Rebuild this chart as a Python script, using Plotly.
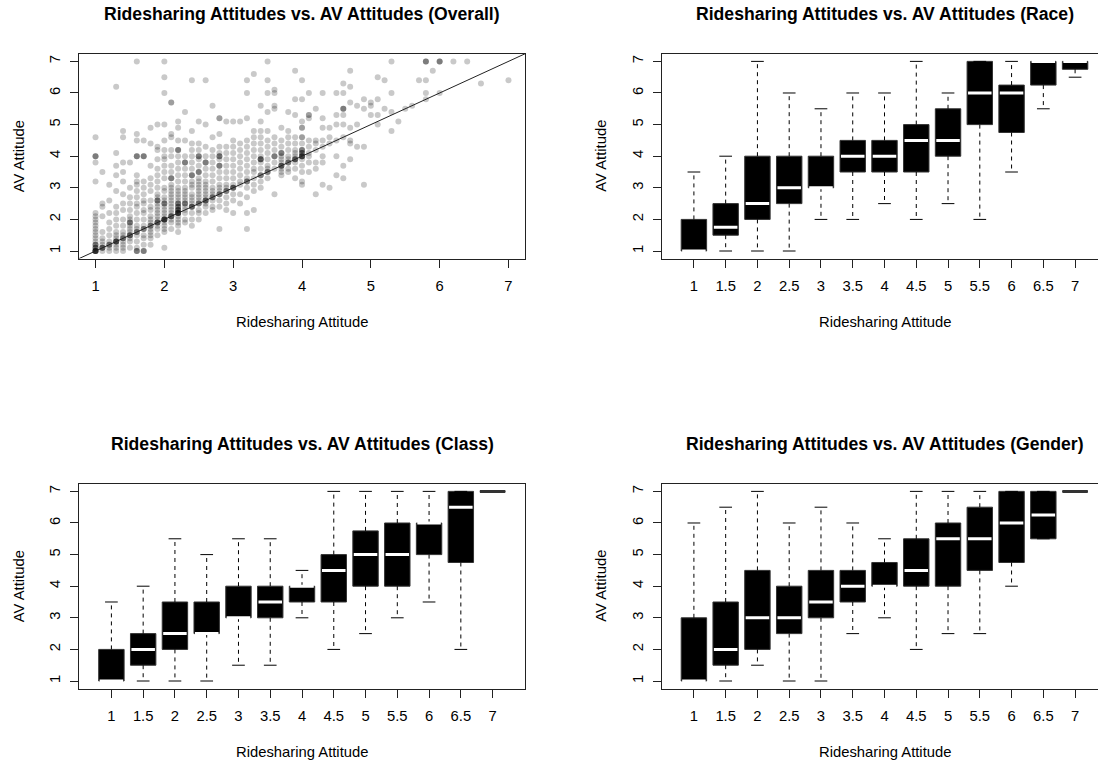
import plotly.graph_objects as go

# ---------------- data ----------------
# Overall scatter: ridesharing attitude levels and the AV attitudes seen at each level
ride_levels = [1.0, 1.1, 1.2, 1.3, 1.4, 1.5, 1.6, 1.7, 1.8, 1.9,
               2.0, 2.1, 2.2, 2.3, 2.4, 2.5, 2.6, 2.7, 2.8, 2.9,
               3.0, 3.1, 3.2, 3.3, 3.4, 3.5, 3.6, 3.7, 3.8, 3.9,
               4.0, 4.1, 4.2, 4.3, 4.4, 4.5, 4.6, 4.7, 4.8, 4.9,
               5.0, 5.1, 5.2, 5.3, 5.4, 5.5, 5.6, 5.7, 5.8, 5.9,
               6.0, 6.2, 6.4, 6.6, 7.0]
av_at_level = [
    [1.0, 1.1, 1.2, 1.3, 1.4, 1.5, 1.6, 1.7, 1.8, 1.9, 2.0, 2.1, 2.2, 3.2, 3.8, 4.0, 4.6],
    [1.0, 1.1, 1.2, 1.3, 1.4, 1.6, 2.1, 2.4, 2.5, 3.5],
    [1.0, 1.1, 1.2, 1.3, 1.5, 1.7, 1.9, 2.2, 2.6, 3.1],
    [1.0, 1.1, 1.2, 1.3, 1.4, 1.5, 1.6, 1.8, 2.0, 2.2, 2.4, 2.9, 3.4, 3.7, 4.1, 6.2],
    [1.0, 1.1, 1.2, 1.3, 1.4, 1.5, 1.6, 1.8, 2.0, 2.3, 2.5, 2.8, 3.2, 3.5, 3.8, 4.6, 4.8],
    [1.1, 1.3, 1.4, 1.5, 1.6, 1.7, 1.8, 1.9, 2.0, 2.1, 2.3, 2.5, 2.7, 3.0, 3.8],
    [1.0, 1.1, 1.3, 1.5, 1.6, 1.7, 1.8, 2.0, 2.2, 2.4, 2.5, 2.7, 2.9, 3.1, 3.2, 3.4, 4.0, 4.5, 4.7, 7.0],
    [1.0, 1.2, 1.4, 1.5, 1.7, 1.8, 2.0, 2.2, 2.3, 2.5, 2.6, 2.8, 3.0, 3.2, 4.0, 4.5],
    [1.2, 1.4, 1.5, 1.6, 1.7, 1.8, 1.9, 2.0, 2.1, 2.3, 2.4, 2.6, 2.9, 3.1, 3.3, 3.7, 4.4, 4.9],
    [1.5, 1.7, 1.8, 1.9, 2.0, 2.1, 2.2, 2.3, 2.4, 2.5, 2.6, 2.7, 2.8, 3.0, 3.2, 3.4, 3.6, 3.9, 4.2, 4.3, 5.0],
    [1.1, 1.6, 1.7, 1.8, 1.9, 2.0, 2.1, 2.2, 2.3, 2.4, 2.5, 2.6, 2.7, 2.9, 3.0, 3.3, 3.5, 3.7, 3.9, 4.0, 4.2, 4.5, 5.0, 6.0, 6.5, 7.0],
    [1.7, 1.9, 2.0, 2.1, 2.2, 2.3, 2.4, 2.5, 2.6, 2.7, 2.8, 2.9, 3.0, 3.1, 3.3, 3.5, 3.7, 4.0, 4.2, 4.6, 4.7, 5.7],
    [1.6, 1.8, 1.9, 2.0, 2.1, 2.2, 2.3, 2.4, 2.5, 2.6, 2.7, 2.8, 2.9, 3.0, 3.2, 3.4, 3.6, 3.8, 4.0, 4.2, 4.5, 4.9, 5.1],
    [1.9, 2.0, 2.2, 2.3, 2.4, 2.5, 2.6, 2.7, 2.8, 2.9, 3.0, 3.2, 3.4, 3.6, 3.8, 4.0, 4.5, 5.4],
    [1.8, 2.0, 2.2, 2.4, 2.5, 2.6, 2.7, 2.8, 3.0, 3.1, 3.2, 3.4, 3.6, 3.8, 4.0, 4.2, 4.4, 4.8, 6.4],
    [2.0, 2.2, 2.3, 2.5, 2.6, 2.7, 2.8, 2.9, 3.0, 3.1, 3.2, 3.3, 3.5, 3.7, 3.9, 4.0, 4.2, 4.4, 5.1],
    [2.2, 2.4, 2.5, 2.6, 2.7, 2.8, 2.9, 3.0, 3.1, 3.2, 3.4, 3.6, 3.8, 4.0, 4.3, 5.0, 6.4],
    [2.3, 2.4, 2.6, 2.7, 2.8, 2.9, 3.0, 3.2, 3.4, 3.6, 3.8, 4.0, 4.2, 4.6, 5.6],
    [1.7, 2.4, 2.6, 2.8, 2.9, 3.0, 3.1, 3.3, 3.5, 3.7, 3.9, 4.0, 4.1, 4.3, 4.7, 5.2],
    [2.3, 2.5, 2.7, 2.9, 3.0, 3.1, 3.3, 3.5, 3.7, 3.9, 4.1, 4.3, 5.1],
    [2.2, 2.6, 2.8, 3.0, 3.1, 3.3, 3.5, 3.7, 3.9, 4.1, 4.3, 4.5, 5.1],
    [2.5, 2.8, 3.1, 3.2, 3.4, 3.6, 3.8, 4.0, 4.2, 4.4, 5.1],
    [1.7, 2.2, 2.7, 3.0, 3.2, 3.3, 3.5, 3.7, 3.9, 4.1, 4.3, 4.5, 5.2, 6.0, 6.4],
    [2.3, 2.9, 3.1, 3.3, 3.5, 3.6, 3.8, 4.0, 4.2, 4.4, 4.6, 4.8, 6.6],
    [3.0, 3.2, 3.4, 3.6, 3.8, 3.9, 4.0, 4.2, 4.4, 4.6, 4.8, 5.1, 5.6],
    [3.3, 3.5, 3.6, 3.7, 3.9, 4.1, 4.3, 4.5, 4.8, 5.4, 6.0, 6.4, 7.0],
    [2.8, 3.6, 3.8, 4.0, 4.2, 4.4, 4.6, 5.5, 5.6, 6.0, 6.1],
    [3.4, 3.5, 3.6, 3.7, 3.8, 3.9, 4.0, 4.1, 4.3, 4.5, 4.9],
    [3.5, 3.6, 3.8, 3.9, 4.0, 4.2, 4.4, 4.6, 4.8, 5.4],
    [3.3, 3.6, 3.8, 3.9, 4.0, 4.1, 4.2, 4.4, 4.6, 5.3, 5.8, 6.7],
    [3.1, 3.2, 3.5, 3.7, 3.9, 4.0, 4.1, 4.2, 4.4, 4.6, 4.9, 5.1, 5.8, 6.4],
    [3.5, 3.8, 4.0, 4.1, 4.3, 4.5, 5.2, 5.3, 6.0],
    [2.8, 3.6, 3.8, 4.2, 4.4, 4.5, 5.5],
    [3.1, 3.8, 4.0, 4.3, 4.5, 4.9, 5.2, 6.0],
    [3.0, 4.4, 4.6, 4.9],
    [3.4, 4.0, 4.5, 5.0, 5.3, 6.0],
    [3.3, 3.7, 4.6, 5.0, 5.3, 5.5, 6.0, 6.3],
    [3.9, 4.4, 4.5, 4.9, 5.7, 6.2, 6.7],
    [4.3, 5.0, 5.6],
    [3.1, 4.3, 5.5, 5.8],
    [5.3, 5.6, 5.7],
    [5.0, 5.3, 5.8, 6.5],
    [5.5, 6.4],
    [4.8, 5.4, 6.0, 7.0],
    [5.1],
    [5.5],
    [5.6],
    [6.4],
    [5.8, 6.0, 6.4, 7.0],
    [6.7],
    [6.0, 7.0],
    [7.0],
    [7.0],
    [6.3],
    [6.4],
]
# repeated responses (darker overlapping dots)
dup_ride = [1.0, 1.0, 1.0, 1.0, 1.1, 1.2, 1.3, 1.4, 1.5, 1.5, 1.6, 1.6, 1.7, 1.6, 1.7, 1.7, 1.8, 1.9, 1.9,
            2.0, 2.0, 2.1, 2.1, 2.2, 2.2, 2.2, 2.2, 2.2, 2.3, 2.3, 2.4, 2.4, 2.5, 2.5, 2.5, 2.6, 2.6,
            2.7, 2.8, 2.8, 2.8, 2.9, 3.0, 3.2, 3.4, 3.4, 3.5, 3.6, 3.7, 3.7, 3.8, 3.9, 4.0, 4.0, 4.0,
            4.0, 4.0, 4.1, 4.6, 5.8, 6.0, 2.1, 2.8]
dup_av = [1.0, 1.1, 1.2, 4.0, 1.1, 1.2, 1.3, 1.4, 1.5, 1.9, 1.6, 1.0, 1.0, 4.0, 4.0, 1.7, 1.8, 1.9, 2.6,
          2.0, 2.5, 2.1, 3.3, 2.2, 2.3, 2.4, 2.5, 4.2, 2.5, 3.8, 2.4, 3.4, 2.5, 3.5, 4.0, 2.6, 3.8,
          2.7, 2.8, 4.0, 3.7, 2.9, 3.0, 3.2, 3.4, 3.9, 3.5, 4.0, 3.7, 4.1, 3.8, 3.9, 4.0, 4.1, 4.2,
          4.6, 4.9, 5.3, 5.5, 7.0, 7.0, 5.7, 5.2]
dup_count = [6, 2, 2, 2, 3, 2, 4, 2, 3, 2, 2, 2, 2, 2, 2, 2, 2, 3, 2,
             5, 2, 3, 2, 5, 3, 2, 2, 2, 2, 2, 3, 2, 2, 2, 2, 3, 2,
             2, 2, 2, 2, 2, 3, 2, 2, 3, 2, 2, 3, 2, 2, 3, 4, 2, 2,
             1, 1, 1, 2, 2, 2, 1, 1]

scatter_ticks = [1, 2, 3, 4, 5, 6, 7]

# Box plots: AV attitude by ridesharing attitude (13 groups)
group_labels = ["1", "1.5", "2", "2.5", "3", "3.5", "4", "4.5", "5", "5.5", "6", "6.5", "7"]

race_low  = [1.0, 1.0, 1.0, 1.0, 2.0, 2.0, 2.5, 2.0, 2.5, 2.0, 3.5, 5.5, 6.5]
race_q1   = [1.0, 1.5, 2.0, 2.5, 3.0, 3.5, 3.5, 3.5, 4.0, 5.0, 4.75, 6.25, 6.75]
race_med  = [1.0, 1.75, 2.5, 3.0, 3.0, 4.0, 4.0, 4.5, 4.5, 6.0, 6.0, 7.0, 7.0]
race_q3   = [2.0, 2.5, 4.0, 4.0, 4.0, 4.5, 4.5, 5.0, 5.5, 7.0, 6.25, 7.0, 7.0]
race_high = [3.5, 4.0, 7.0, 6.0, 5.5, 6.0, 6.0, 7.0, 6.0, 7.0, 7.0, 7.0, 7.0]

class_low  = [1.0, 1.0, 1.0, 1.0, 1.5, 1.5, 3.0, 2.0, 2.5, 3.0, 3.5, 2.0, 7.0]
class_q1   = [1.0, 1.5, 2.0, 2.5, 3.0, 3.0, 3.5, 3.5, 4.0, 4.0, 5.0, 4.75, 7.0]
class_med  = [1.0, 2.0, 2.5, 2.5, 3.0, 3.5, 4.0, 4.5, 5.0, 5.0, 6.0, 6.5, 7.0]
class_q3   = [2.0, 2.5, 3.5, 3.5, 4.0, 4.0, 4.0, 5.0, 5.75, 6.0, 6.0, 7.0, 7.0]
class_high = [3.5, 4.0, 5.5, 5.0, 5.5, 5.5, 4.5, 7.0, 7.0, 7.0, 7.0, 7.0, 7.0]

gender_low  = [1.0, 1.0, 1.5, 1.0, 1.0, 2.5, 3.0, 2.0, 2.5, 2.5, 4.0, 5.5, 7.0]
gender_q1   = [1.0, 1.5, 2.0, 2.5, 3.0, 3.5, 4.0, 4.0, 4.0, 4.5, 4.75, 5.5, 7.0]
gender_med  = [1.0, 2.0, 3.0, 3.0, 3.5, 4.0, 4.0, 4.5, 5.5, 5.5, 6.0, 6.25, 7.0]
gender_q3   = [3.0, 3.5, 4.5, 4.0, 4.5, 4.5, 4.75, 5.5, 6.0, 6.5, 7.0, 7.0, 7.0]
gender_high = [6.0, 6.5, 7.0, 6.0, 6.5, 6.0, 5.5, 7.0, 7.0, 7.0, 7.0, 7.0, 7.0]

titles = ["Ridesharing Attitudes vs. AV Attitudes (Overall)",
          "Ridesharing Attitudes vs. AV Attitudes (Race)",
          "Ridesharing Attitudes vs. AV Attitudes (Class)",
          "Ridesharing Attitudes vs. AV Attitudes (Gender)"]
x_title = "Ridesharing Attitude"
y_title = "AV Attitude"

# ---------------- layout geometry (pixels) ----------------
W, H = 1098, 761
FONT = "Liberation Sans, Arial, Helvetica, sans-serif"
AXFONT = 14.8
TITLEFONT = 17.6
ROW_OFF = 430
LEFT_X0, LEFT_X1 = 79, 525
RIGHT_X0 = 661.5
GROUP_PX = (LEFT_X1 - LEFT_X0) / 14.04
TOP_Y0, TOP_Y1 = 53.8, 258.6  # top / bottom of top-row plot boxes


def xdom(x0, x1):
    return [x0 / W, min(x1 / W, 1.0)]


def ydom(top, bottom):
    return [1 - bottom / H, 1 - top / H]


fig = go.Figure()

# ---- scatter panel ----
sx, sy = [], []
for lv, col in zip(ride_levels, av_at_level):
    for v in col:
        sx.append(lv)
        sy.append(v)
for lv, v, n in zip(dup_ride, dup_av, dup_count):
    for _ in range(n):
        sx.append(lv)
        sy.append(v)

fig.add_trace(go.Scatter(x=sx, y=sy, mode="markers", xaxis="x", yaxis="y",
                         marker=dict(size=6, color="rgba(0,0,0,0.21)", line=dict(width=0)),
                         hoverinfo="skip"))
# identity line y = x
fig.add_trace(go.Scatter(x=[0, 8], y=[0, 8], mode="lines", xaxis="x", yaxis="y",
                         line=dict(color="#222", width=1), hoverinfo="skip"))


def add_boxes(xa, ya, low, q1, med, q3, high):
    pos = list(range(1, len(low) + 1))
    fig.add_trace(go.Bar(x=pos, y=[b - a for a, b in zip(q1, q3)], base=q1, width=0.8,
                         xaxis=xa, yaxis=ya,
                         marker=dict(color="black", line=dict(color="#333", width=1)),
                         hoverinfo="skip"))
    wx, wy, sxs, sys_ = [], [], [], []
    for p, lo, a, b, hi in zip(pos, low, q1, q3, high):
        wx += [p, p, None, p, p, None]
        wy += [b, hi, None, a, lo, None]
        sxs += [p - 0.2, p + 0.2, None, p - 0.2, p + 0.2, None]
        sys_ += [hi, hi, None, lo, lo, None]
    fig.add_trace(go.Scatter(x=wx, y=wy, mode="lines", xaxis=xa, yaxis=ya,
                             line=dict(color="black", width=1, dash="4px,4px"), hoverinfo="skip"))
    fig.add_trace(go.Scatter(x=sxs, y=sys_, mode="lines", xaxis=xa, yaxis=ya,
                             line=dict(color="black", width=1), hoverinfo="skip"))
    mx_w, my_w, mx_d, my_d = [], [], [], []
    for p, a, m, b in zip(pos, q1, med, q3):
        if b > a:
            mx_w += [p - 0.37, p + 0.37, None]
            my_w += [m, m, None]
        else:
            mx_d += [p - 0.4, p + 0.4, None]
            my_d += [m, m, None]
    fig.add_trace(go.Scatter(x=mx_w, y=my_w, mode="lines", xaxis=xa, yaxis=ya,
                             line=dict(color="white", width=3), hoverinfo="skip"))
    if mx_d:
        fig.add_trace(go.Scatter(x=mx_d, y=my_d, mode="lines", xaxis=xa, yaxis=ya,
                                 line=dict(color="#333", width=3), hoverinfo="skip"))


add_boxes("x2", "y2", race_low, race_q1, race_med, race_q3, race_high)
add_boxes("x3", "y3", class_low, class_q1, class_med, class_q3, class_high)
add_boxes("x4", "y4", gender_low, gender_q1, gender_med, gender_q3, gender_high)

common = dict(showline=True, linecolor="#222", linewidth=1, ticks="outside", ticklen=8,
              tickcolor="#222", tickwidth=1, showgrid=False, zeroline=False,
              tickfont=dict(family=FONT, size=AXFONT, color="black"), fixedrange=True)

ngroups = len(group_labels)
right_range_end = -0.02 + (W - RIGHT_X0) / GROUP_PX
box_x_left = dict(common, tickmode="array", tickvals=list(range(1, ngroups + 1)),
                  ticktext=group_labels, range=[-0.02, ngroups + 1.02], mirror=True,
                  ticklabelstandoff=6)
box_x_right = dict(box_x_left, range=[-0.02, right_range_end])
yax = dict(common, tickmode="array", tickvals=scatter_ticks, range=[0.76, 7.24],
           tickangle=-90, ticklabelstandoff=4)

top_dom = ydom(TOP_Y0, TOP_Y1)
bot_dom = ydom(TOP_Y0 + ROW_OFF, TOP_Y1 + ROW_OFF)

fig.update_layout(
    width=W, height=H, margin=dict(l=0, r=0, t=0, b=0),
    paper_bgcolor="white", plot_bgcolor="white", showlegend=False,
    font=dict(family=FONT, color="black"),
    xaxis=dict(common, domain=xdom(LEFT_X0, LEFT_X1), anchor="y", tickmode="array",
               tickvals=scatter_ticks, range=[0.76, 7.24], mirror=True, ticklabelstandoff=6),
    yaxis=dict(yax, domain=top_dom, anchor="x", mirror=True),
    xaxis2=dict(box_x_right, domain=xdom(RIGHT_X0, W), anchor="y2"),
    yaxis2=dict(yax, domain=top_dom, anchor="x2", mirror=False),
    xaxis3=dict(box_x_left, domain=xdom(LEFT_X0, LEFT_X1), anchor="y3"),
    yaxis3=dict(yax, domain=bot_dom, anchor="x3", mirror=True),
    xaxis4=dict(box_x_right, domain=xdom(RIGHT_X0, W), anchor="y4"),
    yaxis4=dict(yax, domain=bot_dom, anchor="x4", mirror=False),
)

# titles and axis titles (R-style placement)
annos = []
panels = [(LEFT_X0, LEFT_X1, 0), (RIGHT_X0, RIGHT_X0 + (LEFT_X1 - LEFT_X0), 0),
          (LEFT_X0, LEFT_X1, ROW_OFF), (RIGHT_X0, RIGHT_X0 + (LEFT_X1 - LEFT_X0), ROW_OFF)]
for (x0, x1, off), t in zip(panels, titles):
    cx = (x0 + x1) / 2
    annos.append(dict(text="<b>" + t + "</b>", x=cx / W, y=1 - (14 + off) / H,
                      xref="paper", yref="paper", xanchor="center", yanchor="middle",
                      showarrow=False, font=dict(family=FONT, size=TITLEFONT, color="black")))
    annos.append(dict(text=x_title, x=cx / W, y=1 - (TOP_Y1 + 63.5 + off) / H,
                      xref="paper", yref="paper", xanchor="center", yanchor="middle",
                      showarrow=False, font=dict(family=FONT, size=AXFONT, color="black")))
    annos.append(dict(text=y_title, x=(x0 - 60) / W, y=1 - ((TOP_Y0 + TOP_Y1) / 2 + off) / H,
                      xref="paper", yref="paper", xanchor="center", yanchor="middle",
                      textangle=-90, showarrow=False,
                      font=dict(family=FONT, size=AXFONT, color="black")))
fig.update_layout(annotations=annos)

# remove the browser's default page margin so the figure fills the window exactly
fig.write_html("out.html", config={"displayModeBar": False, "staticPlot": True},
               post_script="document.body.style.margin='0px';document.body.style.overflow='hidden';")
